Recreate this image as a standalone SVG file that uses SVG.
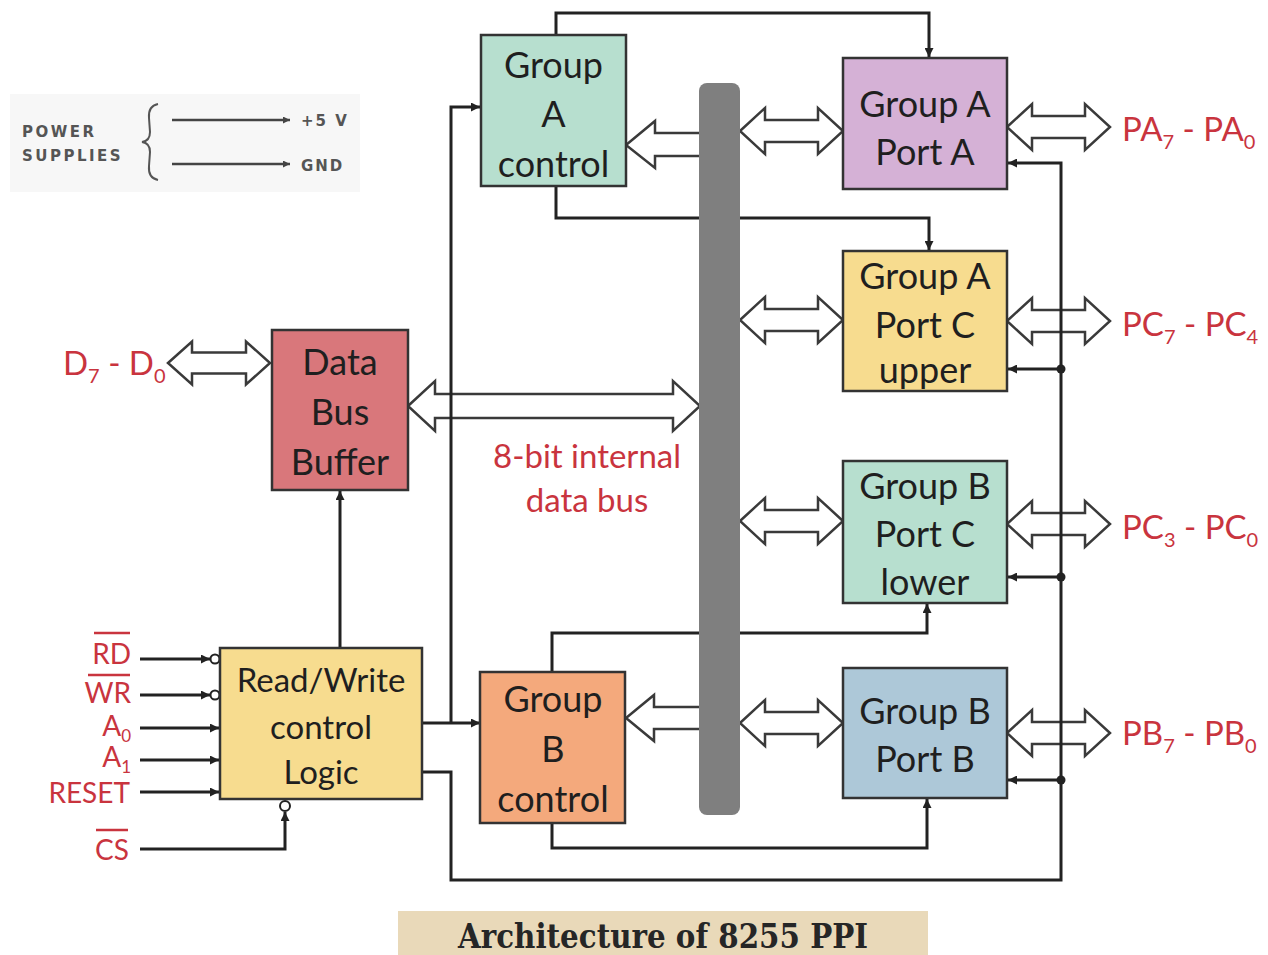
<svg xmlns="http://www.w3.org/2000/svg" width="1268" height="955" viewBox="0 0 1268 955">
<style>
.box{stroke:#333;stroke-width:2.5}
.t{font-family:Lato,"Open Sans","DejaVu Sans",sans-serif;font-size:36px;fill:#1f1f1f;text-anchor:middle}
.t2{font-size:33px}
.red{font-family:Lato,"Open Sans","DejaVu Sans",sans-serif;font-size:33px;fill:#c9343e}
.in{font-family:Lato,"Open Sans","DejaVu Sans",sans-serif;font-size:28px;fill:#c9343e;text-anchor:end}
.sub{font-size:20px}
.sub2{font-size:17px}
.blk{fill:#fff;stroke:#3a3a3a;stroke-width:2.5;stroke-linejoin:miter}
.ln{fill:none;stroke:#222;stroke-width:3}
.ol{stroke:#c9343e;stroke-width:2.5}
.ps{font-family:"DejaVu Sans",sans-serif;font-weight:bold;font-size:15px;fill:#555;letter-spacing:2.5px}
</style>
<defs>
<marker id="ah" viewBox="0 0 10 10" refX="10" refY="5" markerWidth="10" markerHeight="9" orient="auto" markerUnits="userSpaceOnUse">
<path d="M0,0 L10,5 L0,10 z" fill="#222"/>
</marker>
<marker id="ahs" viewBox="0 0 10 10" refX="10" refY="5" markerWidth="8" markerHeight="7" orient="auto" markerUnits="userSpaceOnUse">
<path d="M0,0 L10,5 L0,10 z" fill="#444"/>
</marker>
</defs>
<rect width="1268" height="955" fill="#fff"/>

<g id="power">
<rect x="10" y="94" width="350" height="98" fill="#f7f7f7"/>
<text class="ps" x="22" y="137">POWER</text>
<text class="ps" x="22" y="161">SUPPLIES</text>
<path d="M158,104 Q148,106 149,118 L150,132 Q150,141 142,142 Q150,143 150,152 L149,166 Q148,178 158,180" fill="none" stroke="#555" stroke-width="2"/>
<line x1="172" y1="120" x2="290" y2="120" stroke="#444" stroke-width="2.5" marker-end="url(#ahs)"/>
<line x1="172" y1="164" x2="290" y2="164" stroke="#444" stroke-width="2.5" marker-end="url(#ahs)"/>
<text class="ps" x="301" y="126" style="letter-spacing:2px">+5 V</text>
<text class="ps" x="301" y="171" style="letter-spacing:2px">GND</text>
</g>

<g id="block-arrows">
<path class="blk" d="M168,363 L192,341.5 L192,352.5 L246,352.5 L246,341.5 L270,363 L246,384.5 L246,373.5 L192,373.5 L192,384.5 Z"/>
<path class="blk" d="M408,406 L435,381 L435,394 L673,394 L673,381 L700,406 L673,431 L673,418 L435,418 L435,431 Z"/>
<path class="blk" d="M702,133 L655,133 L655,121 L626,145 L655,168 L655,156 L702,156 Z"/>
<path class="blk" d="M702,707 L654,707 L654,695 L626,718 L654,741 L654,729 L702,729 Z"/>
<path class="blk" d="M740,131 L765,108 L765,120 L818,120 L818,108 L843,131 L818,154 L818,142 L765,142 L765,154 Z"/>
<path class="blk" d="M740,320 L765,297 L765,309 L818,309 L818,297 L843,320 L818,343 L818,331 L765,331 L765,343 Z"/>
<path class="blk" d="M740,521 L765,498 L765,510 L818,510 L818,498 L843,521 L818,544 L818,532 L765,532 L765,544 Z"/>
<path class="blk" d="M740,723 L765,700 L765,712 L818,712 L818,700 L843,723 L818,746 L818,734 L765,734 L765,746 Z"/>
<path class="blk" d="M1007,127 L1032,104 L1032,116 L1085,116 L1085,104 L1110,127 L1085,150 L1085,138 L1032,138 L1032,150 Z"/>
<path class="blk" d="M1007,321 L1032,298 L1032,310 L1085,310 L1085,298 L1110,321 L1085,344 L1085,332 L1032,332 L1032,344 Z"/>
<path class="blk" d="M1007,524 L1032,501 L1032,513 L1085,513 L1085,501 L1110,524 L1085,547 L1085,535 L1032,535 L1032,547 Z"/>
<path class="blk" d="M1007,733 L1032,710 L1032,722 L1085,722 L1085,710 L1110,733 L1085,756 L1085,744 L1032,744 L1032,756 Z"/>
</g>

<g id="connectors">
<path class="ln" d="M556,35 V13 H929 V57" marker-end="url(#ah)"/>
<path class="ln" d="M556,186 V218 H929 V250" marker-end="url(#ah)"/>
<path class="ln" d="M552,671 V633 H927 V604" marker-end="url(#ah)"/>
<path class="ln" d="M552,823 V848 H927 V799" marker-end="url(#ah)"/>
<path class="ln" d="M422,723 H480" marker-end="url(#ah)"/>
<path class="ln" d="M451,723 V107 H480" marker-end="url(#ah)"/>
<path class="ln" d="M422,772 H451 V880 H1061 V163 H1008" marker-end="url(#ah)"/>
<path class="ln" d="M1061,369 H1008" marker-end="url(#ah)"/>
<path class="ln" d="M1061,577 H1008" marker-end="url(#ah)"/>
<path class="ln" d="M1061,780 H1008" marker-end="url(#ah)"/>
<circle cx="1061" cy="369" r="4.5" fill="#222"/>
<circle cx="1061" cy="577" r="4.5" fill="#222"/>
<circle cx="1061" cy="780" r="4.5" fill="#222"/>
<path class="ln" d="M340,648 V491" marker-end="url(#ah)"/>
<path class="ln" d="M140,659 H210" marker-end="url(#ah)"/>
<path class="ln" d="M140,695 H210" marker-end="url(#ah)"/>
<circle cx="215" cy="659" r="4.5" fill="#fff" stroke="#222" stroke-width="2"/>
<circle cx="215" cy="695" r="4.5" fill="#fff" stroke="#222" stroke-width="2"/>
<path class="ln" d="M140,728 H219" marker-end="url(#ah)"/>
<path class="ln" d="M140,760 H219" marker-end="url(#ah)"/>
<path class="ln" d="M140,792 H219" marker-end="url(#ah)"/>
<path class="ln" d="M140,849 H285 V812" marker-end="url(#ah)"/>
<circle cx="285" cy="806" r="5" fill="#fff" stroke="#222" stroke-width="2"/>
</g>

<g id="internal-bus">
<rect x="699" y="83" width="41" height="732" rx="8" fill="#7f7f7f"/>
</g>

<g id="group-a-control">
<rect class="box" x="481" y="35" width="145" height="151" fill="#b7dfcf"/>
<text class="t" x="553.5" y="78">Group</text>
<text class="t" x="553.5" y="127">A</text>
<text class="t" x="553.5" y="177">control</text>
</g>

<g id="group-a-port-a">
<rect class="box" x="843" y="58" width="164" height="131" fill="#d5b1d6"/>
<text class="t" x="925" y="117">Group A</text>
<text class="t" x="925" y="165">Port A</text>
</g>

<g id="group-a-port-c-upper">
<rect class="box" x="843" y="251" width="164" height="140" fill="#f7dc8f"/>
<text class="t" x="925" y="289">Group A</text>
<text class="t" x="925" y="338">Port C</text>
<text class="t" x="925" y="383">upper</text>
</g>

<g id="group-b-port-c-lower">
<rect class="box" x="843" y="461" width="164" height="142" fill="#b7dfcf"/>
<text class="t" x="925" y="499">Group B</text>
<text class="t" x="925" y="547">Port C</text>
<text class="t" x="925" y="595">lower</text>
</g>

<g id="group-b-port-b">
<rect class="box" x="843" y="668" width="164" height="130" fill="#adc8d8"/>
<text class="t" x="925" y="724">Group B</text>
<text class="t" x="925" y="772">Port B</text>
</g>

<g id="group-b-control">
<rect class="box" x="480" y="672" width="145" height="151" fill="#f4a97c"/>
<text class="t" x="553" y="712">Group</text>
<text class="t" x="553" y="762">B</text>
<text class="t" x="553" y="812">control</text>
</g>

<g id="data-bus-buffer">
<rect class="box" x="272" y="330" width="136" height="160" fill="#d9777b"/>
<text class="t" x="340" y="375">Data</text>
<text class="t" x="340" y="425">Bus</text>
<text class="t" x="340" y="475">Buffer</text>
</g>

<g id="read-write-control-logic">
<rect class="box" x="220" y="648" width="202" height="151" fill="#f7dc8f"/>
<text class="t t2" x="321" y="692">Read/Write</text>
<text class="t t2" x="321" y="739">control</text>
<text class="t t2" x="321" y="784">Logic</text>
</g>

<g id="labels">
<text class="red" x="63" y="375">D<tspan class="sub" dy="8">7</tspan><tspan dy="-8"> - D</tspan><tspan class="sub" dy="8">0</tspan></text>
<text class="red" x="587" y="468" text-anchor="middle">8-bit internal</text>
<text class="red" x="587" y="512" text-anchor="middle">data bus</text>
<text class="red" x="1122" y="141">PA<tspan class="sub" dy="8">7</tspan><tspan dy="-8"> - PA</tspan><tspan class="sub" dy="8">0</tspan></text>
<text class="red" x="1122" y="336">PC<tspan class="sub" dy="8">7</tspan><tspan dy="-8"> - PC</tspan><tspan class="sub" dy="8">4</tspan></text>
<text class="red" x="1122" y="539">PC<tspan class="sub" dy="8">3</tspan><tspan dy="-8"> - PC</tspan><tspan class="sub" dy="8">0</tspan></text>
<text class="red" x="1122" y="745">PB<tspan class="sub" dy="8">7</tspan><tspan dy="-8"> - PB</tspan><tspan class="sub" dy="8">0</tspan></text>
<text class="in" x="131" y="664">RD</text>
<line class="ol" x1="94" y1="633" x2="130" y2="633"/>
<text class="in" x="131" y="703">WR</text>
<line class="ol" x1="88" y1="675" x2="130" y2="675"/>
<text class="in" x="131" y="736">A<tspan class="sub2" dy="6">0</tspan></text>
<text class="in" x="131" y="767">A<tspan class="sub2" dy="6">1</tspan></text>
<text class="in" x="130" y="803">RESET</text>
<text class="in" x="129" y="860">CS</text>
<line class="ol" x1="96" y1="830" x2="128" y2="830"/>
</g>

<g id="caption">
<rect x="398" y="911" width="530" height="44" fill="#e9d9b9"/>
<text x="458" y="948" font-family="'DejaVu Serif','Liberation Serif',serif" font-weight="bold" font-size="34" fill="#262626" textLength="410" lengthAdjust="spacingAndGlyphs">Architecture of 8255 PPI</text>
</g>
</svg>
